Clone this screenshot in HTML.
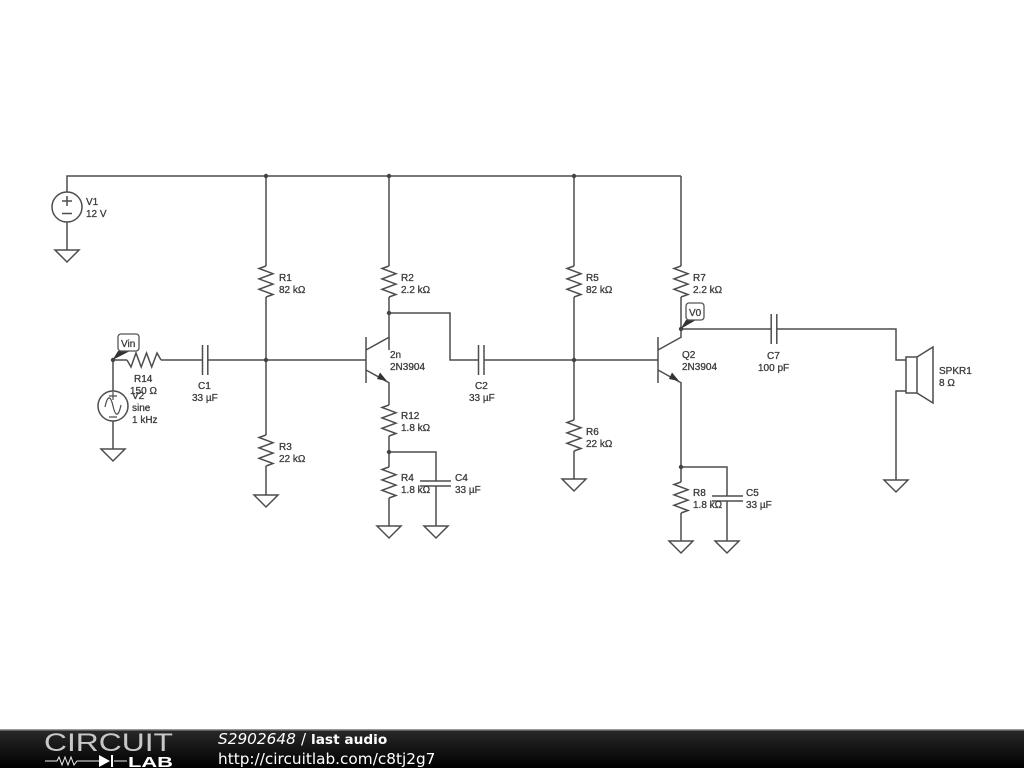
<!DOCTYPE html>
<html><head><meta charset="utf-8"><style>
html,body{margin:0;padding:0;background:#fff;width:1024px;height:768px;overflow:hidden}
svg{display:block}
.w{fill:none;stroke:#4d4d4d;stroke-width:1.5}
.t text{font:10px "Liberation Sans",sans-serif;fill:#3c3c3c;stroke:#3c3c3c;stroke-width:.3}
.b{filter:blur(.3px)}
</style></head><body>
<svg width="1024" height="768" viewBox="0 0 1024 768">
<defs>
<g id="g"><path class="w" d="M-12 0H12L0 12Z"/></g>
<g id="r"><path class="w" d="M0 0L-7 2.500L7 7.700L-7 12.900L7 18.100L-7 23.300L7 28.500L0 31"/></g>
<g id="d"><circle r="2.200" fill="#444"/></g>
<linearGradient id="f" x1="0" y1="0" x2="0" y2="1"><stop offset="0" stop-color="#2a2a2a"/><stop offset="1" stop-color="#000"/></linearGradient>
</defs>
<g class="b">
<path class="w" d="M67 192V176H681M67 222V250M266 176V266M266 297V435M266 466V495M389 176V266M389 297V350M389 383V405M389 436V467M389 498V526M389 452H436V481M436 486V526M389 313H450V360H478M484 360H658M574 176V266M574 297V420M574 451V479M681 176V266M681 297V337M681 383V482M681 513V541M681 467H727V496M727 501V541M681 329H771M777 329H896V360H906M906 391H896V480M113 360V391M113 421V449M113 360H127M161 360H202M208 360H366"/>
<path class="w" d="M202.500 345V375M207.800 345V375M478.500 345V375M484 345V375M771.200 314V344M776.800 314V344M420 481H451M420 486H451M712 496H743M712 501H743"/>
<path class="w" d="M366 337V383M366 350L389.500 337M366 370L389.500 383M658 337V383M658 350L681.500 337M658 370L681.500 383"/>
<path fill="#333" d="M387 381L377 379L380 372.500ZM679 381L669 379L672 372.500Z"/>
<use href="#r" x="266" y="266"/><use href="#r" x="266" y="435"/><use href="#r" x="389" y="266"/><use href="#r" x="389" y="405"/><use href="#r" x="389" y="467"/><use href="#r" x="574" y="266"/><use href="#r" x="574" y="420"/><use href="#r" x="681" y="266"/><use href="#r" x="681" y="482"/>
<path class="w" d="M127 360L131 367L136 353L141.200 367L146.500 353L151.700 367L157 353L161 360"/>
<use href="#g" x="67" y="250"/><use href="#g" x="113" y="449"/><use href="#g" x="266" y="495"/><use href="#g" x="389" y="526"/><use href="#g" x="436" y="526"/><use href="#g" x="574" y="479"/><use href="#g" x="681" y="541"/><use href="#g" x="727" y="541"/><use href="#g" x="896" y="480"/>
<use href="#d" x="266" y="176"/><use href="#d" x="389" y="176"/><use href="#d" x="574" y="176"/><use href="#d" x="266" y="360"/><use href="#d" x="389" y="313"/><use href="#d" x="389" y="452"/><use href="#d" x="574" y="360"/><use href="#d" x="681" y="467"/><use href="#d" x="681" y="329"/><use href="#d" x="113" y="360"/>
<circle class="w" cx="67" cy="207" r="15"/><path class="w" d="M62 201H72M67 196V206M62 213.500H72"/>
<circle class="w" cx="113" cy="406" r="15"/><path class="w" d="M105 407C108 393 111 397 113 406S118 419 121 405M109 396H117M113 392V400M109 417H117" style="stroke-width:1.200"/>
<path class="w" d="M906 357H917V393H906ZM917 357L933 347V403L917 393"/>
<path fill="#333" d="M112.500 360L118 351L130 351ZM680.500 329L686 320L696 320Z"/>
<rect x="118" y="334" width="21" height="17" rx="3" fill="#fff" stroke="#555" stroke-width="1.300"/>
<rect x="686" y="303" width="18" height="17" rx="3" fill="#fff" stroke="#555" stroke-width="1.300"/>
<g class="t">
<text x="121" y="347">Vin</text><text x="689" y="316">V0</text>
<text x="86" y="205">V1</text><text x="86" y="217">12 V</text>
<text x="134" y="382">R14</text><text x="130" y="394">150 Ω</text>
<text x="132" y="399">V2</text><text x="132" y="411">sine</text><text x="132" y="423">1 kHz</text>
<text x="198" y="389">C1</text><text x="192" y="401">33 µF</text>
<text x="279" y="281">R1</text><text x="279" y="293">82 kΩ</text>
<text x="279" y="450">R3</text><text x="279" y="462">22 kΩ</text>
<text x="401" y="281">R2</text><text x="401" y="293">2.2 kΩ</text>
<text x="390" y="358">2n</text><text x="390" y="370">2N3904</text>
<text x="401" y="419">R12</text><text x="401" y="431">1.8 kΩ</text>
<text x="401" y="481">R4</text><text x="401" y="493">1.8 kΩ</text>
<text x="455" y="481">C4</text><text x="455" y="493">33 µF</text>
<text x="475" y="389">C2</text><text x="469" y="401">33 µF</text>
<text x="586" y="281">R5</text><text x="586" y="293">82 kΩ</text>
<text x="586" y="435">R6</text><text x="586" y="447">22 kΩ</text>
<text x="693" y="281">R7</text><text x="693" y="293">2.2 kΩ</text>
<text x="682" y="358">Q2</text><text x="682" y="370">2N3904</text>
<text x="693" y="496">R8</text><text x="693" y="508">1.8 kΩ</text>
<text x="746" y="496">C5</text><text x="746" y="508">33 µF</text>
<text x="767" y="359">C7</text><text x="758" y="371">100 pF</text>
<text x="939" y="374">SPKR1</text><text x="939" y="386">8 Ω</text>
</g>
</g>
<rect x="0" y="729" width="1024" height="39" fill="url(#f)"/>
<rect x="0" y="729" width="1024" height="1.500" fill="#999"/>
<text x="44" y="751" font-family="Liberation Sans,sans-serif" font-size="25" fill="#c8c8c8" textLength="129" lengthAdjust="spacingAndGlyphs">CIRCUIT</text>
<path d="M45 761H57L59 757L62 765L65 757L68 765L71 757L74 765L77 761H99M114 761H127" fill="none" stroke="#eee" stroke-width="1"/>
<path d="M99 755V767L110 761ZM111 755H113V767H111Z" fill="#fff"/>
<text x="128" y="767" font-family="Liberation Sans,sans-serif" font-weight="bold" font-size="15" fill="#fff" textLength="45" lengthAdjust="spacingAndGlyphs">LAB</text>
<text y="744" font-family="DejaVu Sans,sans-serif" fill="#fff"><tspan x="218" font-size="15.300" font-style="italic">S2902648</tspan><tspan x="301" font-size="15">/</tspan><tspan x="311" font-size="13.700" font-weight="bold">last audio</tspan></text>
<text x="218" y="764" font-family="DejaVu Sans,sans-serif" font-size="15.300" fill="#fff">http://circuitlab.com/c8tj2g7</text>
</svg>
</body></html>
